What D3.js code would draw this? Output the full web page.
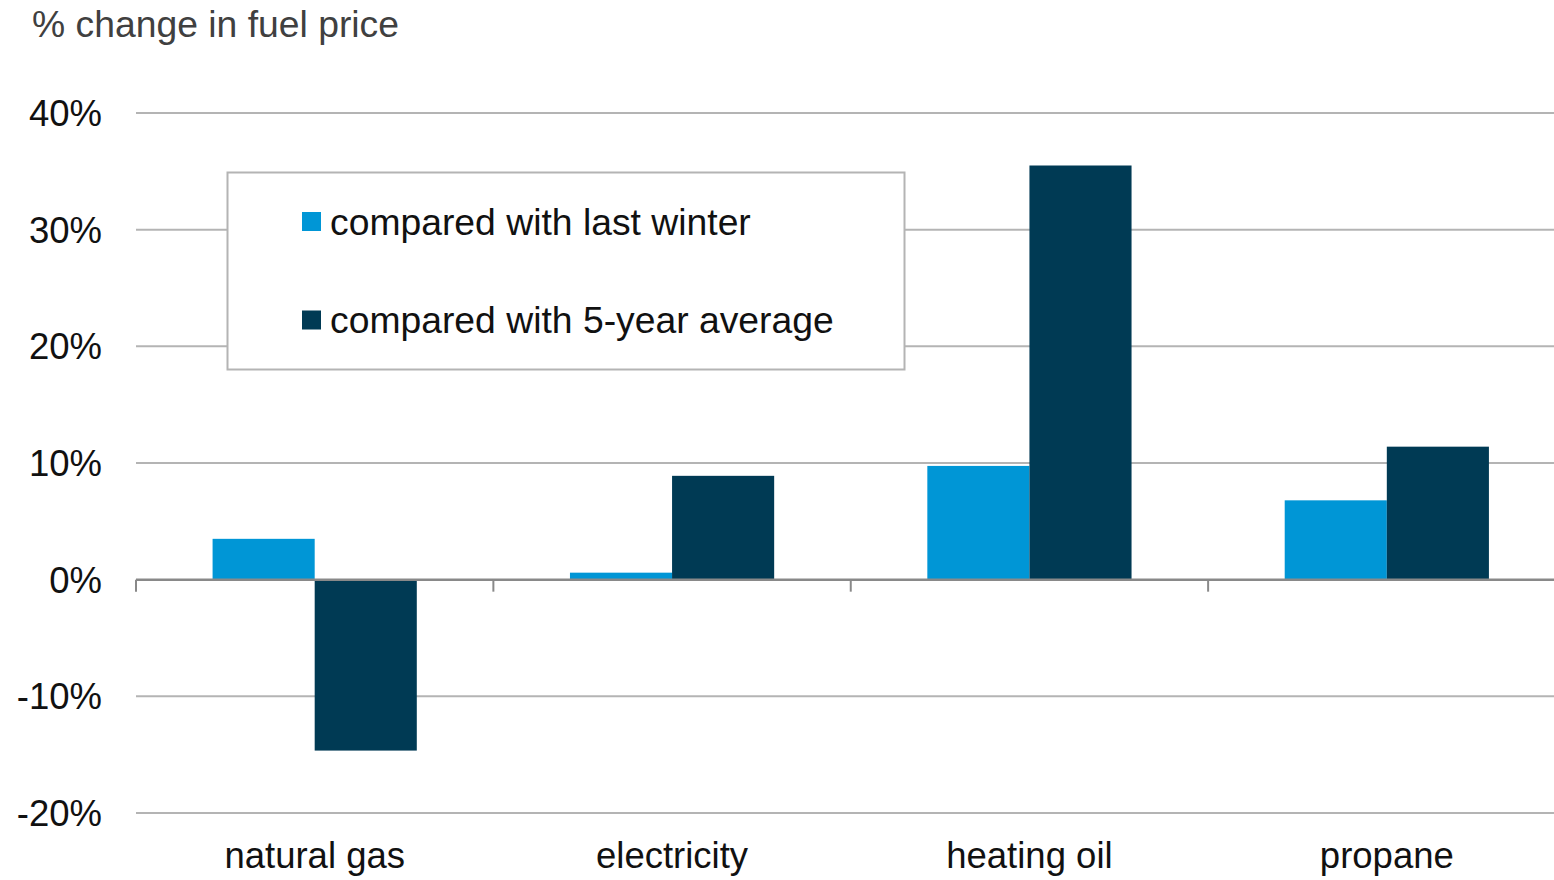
<!DOCTYPE html>
<html>
<head>
<meta charset="utf-8">
<script src="https://cdn.jsdelivr.net/npm/d3@7"></script>
<style>
  html, body { margin: 0; padding: 0; background: #fff; }
  svg { display: block; font-family: "Liberation Sans", Arial, sans-serif; }
</style>
</head>
<body>
<script>
const categories = ["natural gas", "electricity", "heating oil", "propane"];
const seriesNames = ["compared with last winter", "compared with 5-year average"];
const lastWinter = [3.5, 0.6, 9.75, 6.8];
const fiveYearAvg = [-14.65, 8.9, 35.5, 11.4];
const yTicks = [-20, -10, 0, 10, 20, 30, 40];
const colors = ["#0096d6", "#003a54"];

const svgWidth = 1554;
const svgHeight = 880;

const plot = {left: 136, right: 1565.5, top: 113, bottom: 813};

function main() {
    const svg = d3.select("body")
        .append("svg")
        .attr("width", svgWidth)
        .attr("height", svgHeight);

    const rows = categories.map((c, i) => ({cat: c, values: [lastWinter[i], fiveYearAvg[i]]}));

    const y = d3.scaleLinear()
        .domain([d3.min(yTicks), d3.max(yTicks)])
        .range([plot.bottom, plot.top]);

    const x0 = d3.scaleBand()
        .domain(categories)
        .range([plot.left, plot.right])
        .padding(0);

    const x1 = d3.scaleBand()
        .domain(d3.range(seriesNames.length))
        .range([0, x0.bandwidth()])
        .paddingInner(0)
        .paddingOuter(0.75);

    // gridlines
    svg.append("g")
        .selectAll("line")
        .data(yTicks.filter(t => t !== 0))
        .join("line")
        .attr("x1", plot.left)
        .attr("x2", svgWidth)
        .attr("y1", d => y(d))
        .attr("y2", d => y(d))
        .attr("stroke", "#b4b4b4")
        .attr("stroke-width", 2);

    // y labels
    svg.append("g")
        .selectAll("text")
        .data(yTicks)
        .join("text")
        .attr("x", 102)
        .attr("y", d => y(d))
        .attr("dy", "0.36em")
        .attr("text-anchor", "end")
        .style("font-size", "36.5px")
        .attr("fill", "#111")
        .text(d => `${d}%`);

    // bars
    svg.append("g")
        .selectAll("g")
        .data(rows)
        .join("g")
        .attr("transform", d => `translate(${x0(d.cat)},0)`)
        .selectAll("rect")
        .data(d => d.values.map((v, i) => ({i, v})))
        .join("rect")
        .attr("x", d => x1(d.i))
        .attr("width", x1.bandwidth())
        .attr("y", d => y(Math.max(0, d.v)))
        .attr("height", d => Math.abs(y(d.v) - y(0)))
        .attr("fill", d => colors[d.i]);

    // zero axis + category ticks
    const axis = svg.append("g");
    axis.append("line")
        .attr("x1", plot.left)
        .attr("x2", svgWidth)
        .attr("y1", y(0))
        .attr("y2", y(0))
        .attr("stroke", "#898989")
        .attr("stroke-width", 2.5);
    axis.selectAll("line.tick")
        .data(categories)
        .join("line")
        .attr("class", "tick")
        .attr("x1", d => x0(d))
        .attr("x2", d => x0(d))
        .attr("y1", y(0))
        .attr("y2", y(0) + 12)
        .attr("stroke", "#898989")
        .attr("stroke-width", 2);

    // category labels
    svg.append("g")
        .selectAll("text")
        .data(categories)
        .join("text")
        .attr("x", d => x0(d) + x0.bandwidth() / 2)
        .attr("y", 868)
        .attr("text-anchor", "middle")
        .style("font-size", "36.5px")
        .attr("fill", "#111")
        .text(d => d);

    // title
    svg.append("text")
        .attr("x", 32)
        .attr("y", 37)
        .style("font-size", "37.3px")
        .attr("fill", "#404040")
        .text("% change in fuel price");

    // legend
    const legend = svg.append("g");
    legend.append("rect")
        .attr("x", 227.5)
        .attr("y", 172.5)
        .attr("width", 677)
        .attr("height", 197)
        .attr("fill", "#fff")
        .attr("stroke", "#b4b4b4")
        .attr("stroke-width", 2);
    const items = legend.selectAll("g.item")
        .data(seriesNames)
        .join("g")
        .attr("class", "item")
        .attr("transform", (d, i) => `translate(302,${212 + i * 98.5})`);
    items.append("rect")
        .attr("width", 19)
        .attr("height", 19)
        .attr("fill", (d, i) => colors[i]);
    items.append("text")
        .attr("x", 28)
        .attr("y", 22.5)
        .style("font-size", "37.3px")
        .attr("fill", "#111")
        .text(d => d);
}

main();
</script>
</body>
</html>
